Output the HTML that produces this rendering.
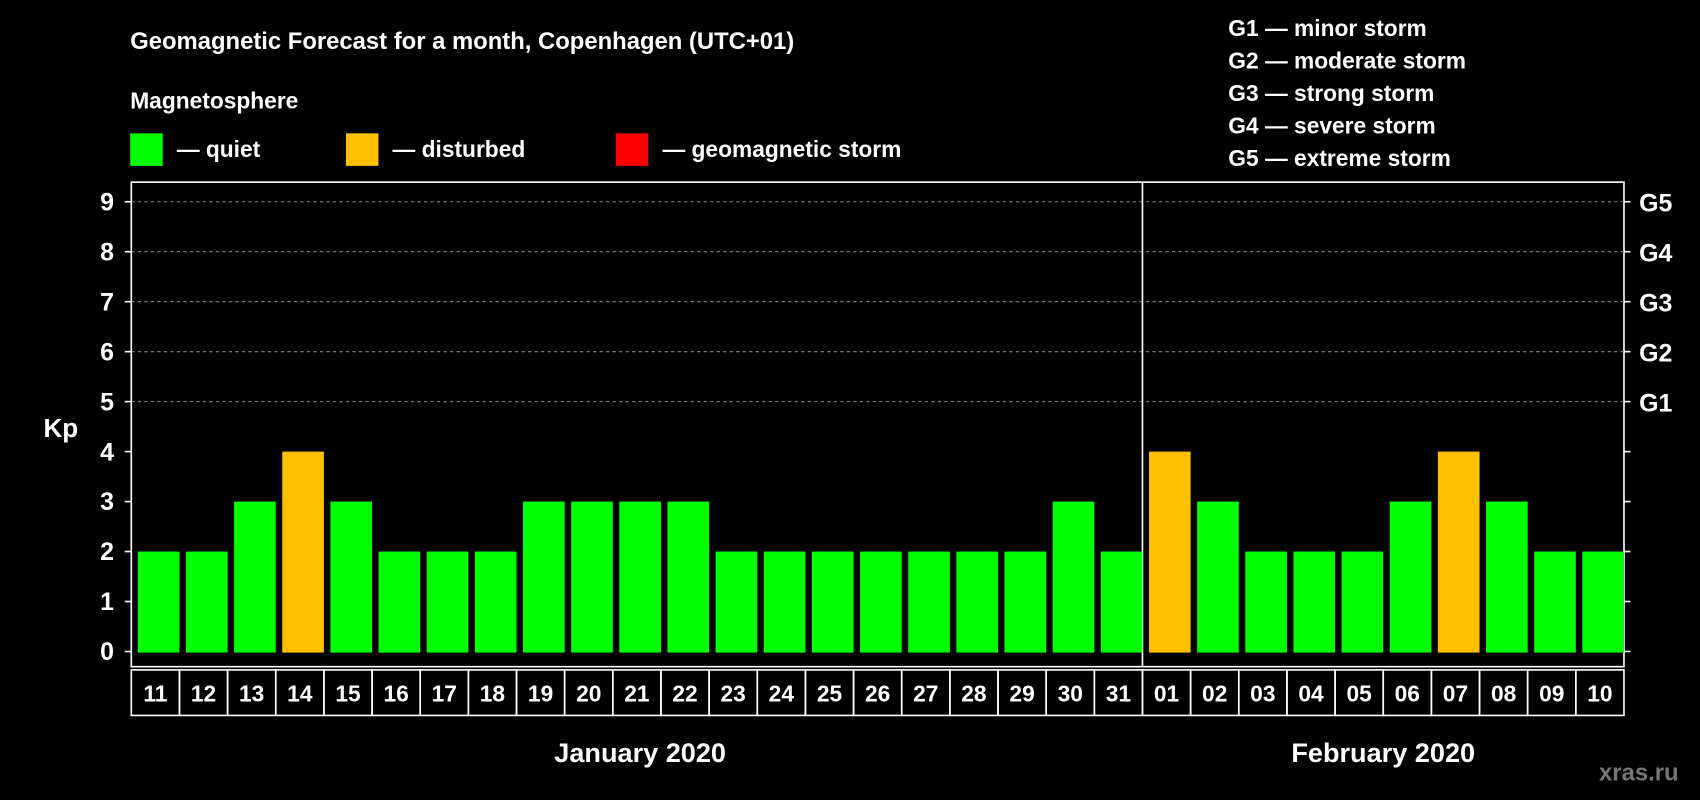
<!DOCTYPE html>
<html><head><meta charset="utf-8"><style>
html,body{margin:0;padding:0;background:#000;}
svg{display:block;font-family:"Liberation Sans",Arial,sans-serif;font-weight:bold;}
</style></head><body>
<svg id="chart" width="1700" height="800" viewBox="0 0 1568 738" xmlns="http://www.w3.org/2000/svg">
<rect width="1568" height="738" fill="#000"/>
<text x="120" y="45" fill="#fff" font-size="22">Geomagnetic Forecast for a month, Copenhagen (UTC+01)</text>
<text x="120" y="100" fill="#fff" font-size="21">Magnetosphere</text>
<g><rect x="120" y="123" width="30" height="30" fill="#00ff00"/><text x="163" y="145" fill="#fff" font-size="21">— quiet</text></g>
<g><rect x="319" y="123" width="30" height="30" fill="#ffc000"/><text x="362" y="145" fill="#fff" font-size="21">— disturbed</text></g>
<g><rect x="568" y="123" width="30" height="30" fill="#ff0000"/><text x="611" y="145" fill="#fff" font-size="21">— geomagnetic storm</text></g>
<g fill="#fff" font-size="21">
<text x="1133" y="33">G1 — minor storm</text>
<text x="1133" y="63">G2 — moderate storm</text>
<text x="1133" y="93">G3 — strong storm</text>
<text x="1133" y="123">G4 — severe storm</text>
<text x="1133" y="153">G5 — extreme storm</text>
</g>
<text x="40" y="403" fill="#fff" font-size="24">Kp</text>
<text x="1475" y="720" fill="#777" font-size="22">xras.ru</text>
<g id="plot"></g>
</svg>
<script>
const days = ["11","12","13","14","15","16","17","18","19","20","21","22","23","24","25","26","27","28","29","30","31","01","02","03","04","05","06","07","08","09","10"];
const kpValues = [2,2,3,4,3,2,2,2,3,3,3,3,2,2,2,2,2,2,2,3,2,4,3,2,2,2,3,4,3,2,2];
const yTicks = [0,1,2,3,4,5,6,7,8,9];
const gLabels = ["","","","","","G1","G2","G3","G4","G5"];
const months = ["January 2020","February 2020"];
const monthSplit = 21;

const NS="http://www.w3.org/2000/svg";
const g=document.getElementById('plot');
const L=121,R=1498,T=168,B=615;
const n=days.length, step=(R-L)/n;
const y=v=>601-v*46.1;
const x=i=>L+i*step;
function mk(tag,attrs,txt){const e=document.createElementNS(NS,tag);for(const k in attrs)e.setAttribute(k,attrs[k]);if(txt!==undefined)e.textContent=txt;g.appendChild(e);return e;}

const frame=mk('rect',{x:L,y:T,width:R-L,height:B-T,fill:'none',stroke:'#fff','stroke-width':1.5});


yTicks.forEach((v,i)=>{
  if(v>=5){const gl=mk('line',{x1:L,x2:R,y1:y(v),y2:y(v),stroke:'#888','stroke-dasharray':'3,3'});
    
    }
  mk('line',{x1:L-6,x2:L,y1:y(v),y2:y(v),stroke:'#fff','stroke-width':1.5});
  mk('line',{x1:R,x2:R+6,y1:y(v),y2:y(v),stroke:'#fff','stroke-width':1.5});
  const t=mk('text',{x:105,y:y(v)+8,fill:'#fff','font-size':23,'text-anchor':'end'},String(v));
  
  
  if(gLabels[i]){const gt=mk('text',{x:1512,y:y(v)+9,fill:'#fff','font-size':23},gLabels[i]);
    
    }
});
const sep=mk('line',{x1:x(monthSplit),x2:x(monthSplit),y1:T,y2:B,stroke:'#fff','stroke-width':1.5});


kpValues.forEach((v,i)=>{
  const col=v>=5?'#ff0000':(v>=4?'#ffc000':'#00ff00');
  const b=mk('rect',{x:x(i)+6,y:y(v),width:step-6,height:y(0)-y(v)+1,fill:col});
  
  
  const c=mk('rect',{x:x(i),y:B+3,width:step,height:42,fill:'none',stroke:'#fff','stroke-width':1.5});
  
  
  const t=mk('text',{x:x(i)+step/2,y:B+32,fill:'#fff','font-size':21,'text-anchor':'middle'},days[i]);
  
  
});
const m1=mk('text',{x:(x(0)+x(monthSplit))/2+3,y:703,fill:'#fff','font-size':25,'text-anchor':'middle'},months[0]);


const m2=mk('text',{x:(x(monthSplit)+x(n))/2,y:703,fill:'#fff','font-size':25,'text-anchor':'middle'},months[1]);


</script>
</body></html>
